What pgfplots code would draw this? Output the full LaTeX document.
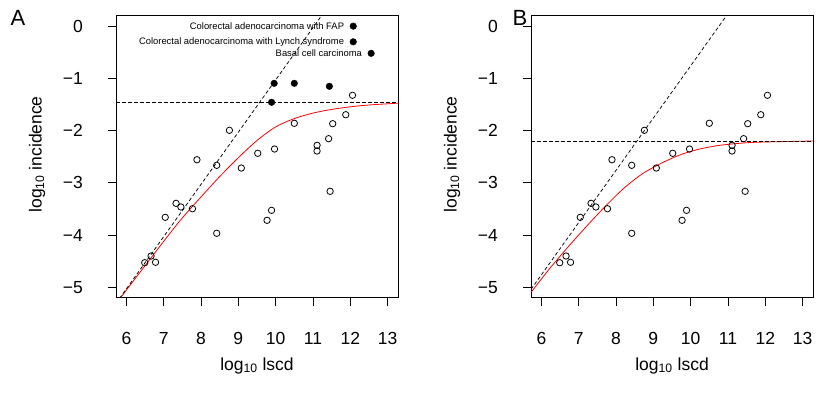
\documentclass[border=0pt]{standalone}
\usepackage{fontspec}
\setmainfont{Liberation Sans}
\usepackage{pgfplots}
\pgfplotsset{compat=1.18}
\pgfplotsset{
  panel/.style={
    anchor=south west, scale only axis, width=282pt, height=282pt,
    xmin=5.72, xmax=13.28, ymin=-5.2, ymax=0.2,
    axis line style={line width=0.75pt},
    xtick={6,7,8,9,10,11,12,13},
    xticklabels={6,7,8,9,10,11,12,13},
    ytick={-5,-4,-3,-2,-1,0},
    yticklabels={−5,−4,−3,−2,−1,0},
    xtick pos=bottom, ytick pos=left,
    tick align=outside, major tick length=8pt,
    tick style={black, line width=0.75pt},
    tick label style={font=\fontsize{17.5}{20}\selectfont, inner sep=0pt},
    xticklabel style={anchor=base, yshift=-39pt},
    yticklabel style={anchor=east, xshift=-25pt},
    every axis x label/.style={at={(axis description cs:0.5,-0.241)}, anchor=center, font=\fontsize{17.5}{20}\selectfont},
    every axis y label/.style={at={(axis description cs:-0.280,0.508)}, rotate=90, anchor=center, font=\fontsize{17.5}{20}\selectfont},
    xlabel={log\textsubscript{10} lscd},
    ylabel={log\textsubscript{10} incidence},
  },
  opencirc/.style={only marks, mark=o, mark size=3.2pt, mark options={line width=0.8pt, black}},
  fullcirc/.style={only marks, mark=*, mark size=3.3pt, mark options={black, fill=black}},
}
\pgfplotstableread{
x y
12.06 -1.324
11.88 -1.696
11.53 -1.868
10.50 -1.860
8.76 -1.995
11.42 -2.155
11.11 -2.282
11.11 -2.391
9.97 -2.353
9.52 -2.435
7.89 -2.558
8.42 -2.665
9.08 -2.717
11.46 -3.163
7.33 -3.393
7.46 -3.463
7.77 -3.496
7.04 -3.661
9.89 -3.527
9.77 -3.718
8.42 -3.967
6.66 -4.402
6.49 -4.530
6.78 -4.522
}\opendata
\pgfplotstableread{
x y
9.96 -1.095
10.50 -1.095
11.44 -1.152
9.89 -1.458
}\fulldata
\pgfplotstableread{
x y
5.80 -5.24
6.40 -4.68
7.00 -4.12
7.50 -3.67
8.00 -3.27
8.50 -2.88
9.00 -2.52
9.50 -2.19
10.00 -1.93
10.50 -1.77
11.00 -1.665
11.50 -1.595
12.00 -1.545
12.50 -1.51
13.28 -1.475
}\redA
\pgfplotstableread{
x y
5.72 -5.10
6.20 -4.66
6.70 -4.24
7.20 -3.84
7.70 -3.46
8.20 -3.11
8.70 -2.83
9.20 -2.63
9.70 -2.47
10.20 -2.36
10.70 -2.29
11.20 -2.25
11.70 -2.225
12.50 -2.21
13.28 -2.20
}\redB
\begin{document}
\begin{tikzpicture}
\path[use as bounding box] (0,0) rectangle (830pt,398pt);
\begin{axis}[panel, at={(116pt,100.3pt)}]
\addplot[red, line width=0.8pt, smooth] table {\redA};
\addplot[black, line width=0.75pt, dash pattern=on 3.5pt off 2.5pt] coordinates {(5.72,-5.31) (11.6,0.57)};
\addplot[black, line width=0.75pt, dash pattern=on 3.5pt off 2.5pt] coordinates {(5.72,-1.458) (13.28,-1.458)};
\addplot[opencirc] table {\opendata};
\addplot[fullcirc] table {\fulldata};
\addplot[fullcirc, point meta=explicit symbolic, nodes near coords, nodes near coords align={anchor=east},
  every node near coord/.append style={anchor=east, inner sep=0pt, xshift=-9pt, font=\fontsize{9.4}{11}\selectfont, text=black}]
  coordinates {(12.08,0.0) [Colorectal adenocarcinoma with FAP]
               (12.08,-0.30) [Colorectal adenocarcinoma with Lynch syndrome]
               (12.56,-0.52) [Basal cell carcinoma]};
\end{axis}
\begin{axis}[panel, at={(531pt,100.3pt)}]
\addplot[red, line width=0.8pt, smooth] table {\redB};
\addplot[black, line width=0.75pt, dash pattern=on 3.5pt off 2.5pt] coordinates {(5.72,-5.04) (11.2,0.44)};
\addplot[black, line width=0.75pt, dash pattern=on 3.5pt off 2.5pt] coordinates {(5.72,-2.205) (13.28,-2.205)};
\addplot[opencirc] table {\opendata};
\end{axis}
\node[font=\fontsize{22}{26}\selectfont, anchor=center] at (18pt,380pt) {A};
\node[font=\fontsize{22}{26}\selectfont, anchor=center] at (520pt,380pt) {B};
\end{tikzpicture}
\end{document}
